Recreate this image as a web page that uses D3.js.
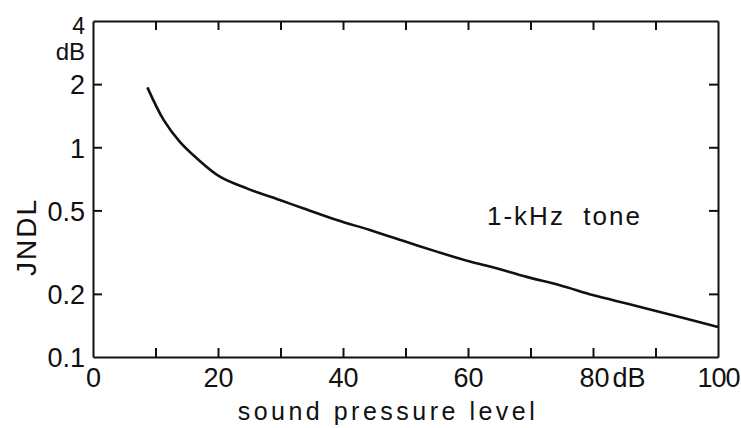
<!DOCTYPE html>
<html><head><meta charset="utf-8">
<script src="https://cdn.jsdelivr.net/npm/d3@7"></script>
<style>
html,body{margin:0;padding:0;background:#fff;}
svg{display:block;}
text{font-family:"Liberation Sans",Arial,sans-serif;fill:#111;}
</style></head>
<body>
<svg id="c" width="741" height="428"></svg>
<script>
const spl  = [8.7, 11.3, 13.9, 16.6, 20.3, 24.6, 29.9, 33.6, 39.0, 44.3, 49.6, 55.0, 60.3, 64.1, 69.4, 74.7, 80.1, 85.4, 90.7, 100];
const jndl = [1.93, 1.35, 1.06, 0.886, 0.724, 0.637, 0.560, 0.512, 0.450, 0.403, 0.358, 0.318, 0.285, 0.267, 0.241, 0.220, 0.197, 0.180, 0.164, 0.139];
const xTicks = [0,10,20,30,40,50,60,70,80,90,100];
const xLabels = ["0","","20","","40","","60","","80","","100"];
const yTicks = [0.1,0.2,0.5,1,2,4];
const yLabels = ["0.1","0.2","0.5","1","2","4"];
const xTitle = "sound pressure level";
const yTitle = "JNDL";
const note = "1-kHz tone";

const W=741,H=428, m={l:93,t:21,r:23,b:71};
const svg=d3.select("#c");
const x=d3.scaleLinear().domain([0,100]).range([m.l,W-m.r]);
const y=d3.scaleLog().domain([0.1,4]).range([H-m.b,m.t]);
const tl=9;
const fmt=(arr,ticks)=>d=>arr[ticks.indexOf(d)];

const gb=svg.append("g").attr("transform",`translate(0,${H-m.b})`)
 .call(d3.axisBottom(x).tickValues(xTicks).tickSizeInner(-tl).tickSizeOuter(0).tickFormat(fmt(xLabels,xTicks)));
const gt=svg.append("g").attr("transform",`translate(0,${m.t})`)
 .call(d3.axisTop(x).tickValues(xTicks).tickSizeInner(-tl).tickSizeOuter(0).tickFormat(""));
const gl=svg.append("g").attr("transform",`translate(${m.l},0)`)
 .call(d3.axisLeft(y).tickValues(yTicks).tickSizeInner(-tl).tickSizeOuter(0).tickFormat(fmt(yLabels,yTicks)));
const gr=svg.append("g").attr("transform",`translate(${W-m.r},0)`)
 .call(d3.axisRight(y).tickValues(yTicks).tickSizeInner(-tl).tickSizeOuter(0).tickFormat(""));

[gb,gt,gl,gr].forEach(g=>{
  g.selectAll(".domain").attr("stroke","#111").attr("stroke-width",2);
  g.selectAll(".tick line").attr("stroke","#111").attr("stroke-width",2);
  g.selectAll("text").attr("font-family","Liberation Sans, Arial, sans-serif").attr("font-size",27).attr("fill","#111");
});
gb.selectAll("text").attr("dy","0.71em").attr("y",11);
gl.selectAll("text").attr("x",-8).attr("dy","0.36em");
gl.selectAll(".tick").filter(d=>d===4).select("text").attr("dy",0).attr("y",12).attr("font-size",23);
gb.selectAll(".tick").filter(d=>d===0||d===100).select("line").remove();
gt.selectAll(".tick").filter(d=>d===0||d===100).select("line").remove();
gl.selectAll(".tick").filter(d=>d===0.1||d===4).select("line").remove();
gr.selectAll(".tick").filter(d=>d===0.1||d===4).select("line").remove();

gb.selectAll(".tick").filter(d=>d===80).select("text")
  .attr("text-anchor","start").attr("x",-14).text("80").append("tspan").attr("dx",3).text("dB");
gb.selectAll(".tick").filter(d=>d===100).select("text").attr("letter-spacing",-1);
svg.append("text").attr("x",85).attr("y",60).attr("text-anchor","end")
  .attr("font-size",24).text("dB");

const pts=spl.map((s,i)=>[s,jndl[i]]);
svg.append("path").datum(pts)
 .attr("fill","none").attr("stroke","#111").attr("stroke-width",2.6)
 .attr("d",d3.line().x(d=>x(d[0])).y(d=>y(d[1])).curve(d3.curveCatmullRom.alpha(0.5)));

svg.append("text").attr("x",388).attr("y",420).attr("text-anchor","middle")
 .attr("font-size",25).attr("letter-spacing",3.5).text(xTitle);
svg.append("text").attr("transform","translate(36,237) rotate(-90)").attr("text-anchor","middle")
 .attr("font-size",28).attr("letter-spacing",2).text(yTitle);
svg.append("text").attr("x",487).attr("y",225).attr("font-size",26).attr("letter-spacing",2)
 .style("white-space","pre").text(note.replace(" ","  "));
</script>
</body></html>
